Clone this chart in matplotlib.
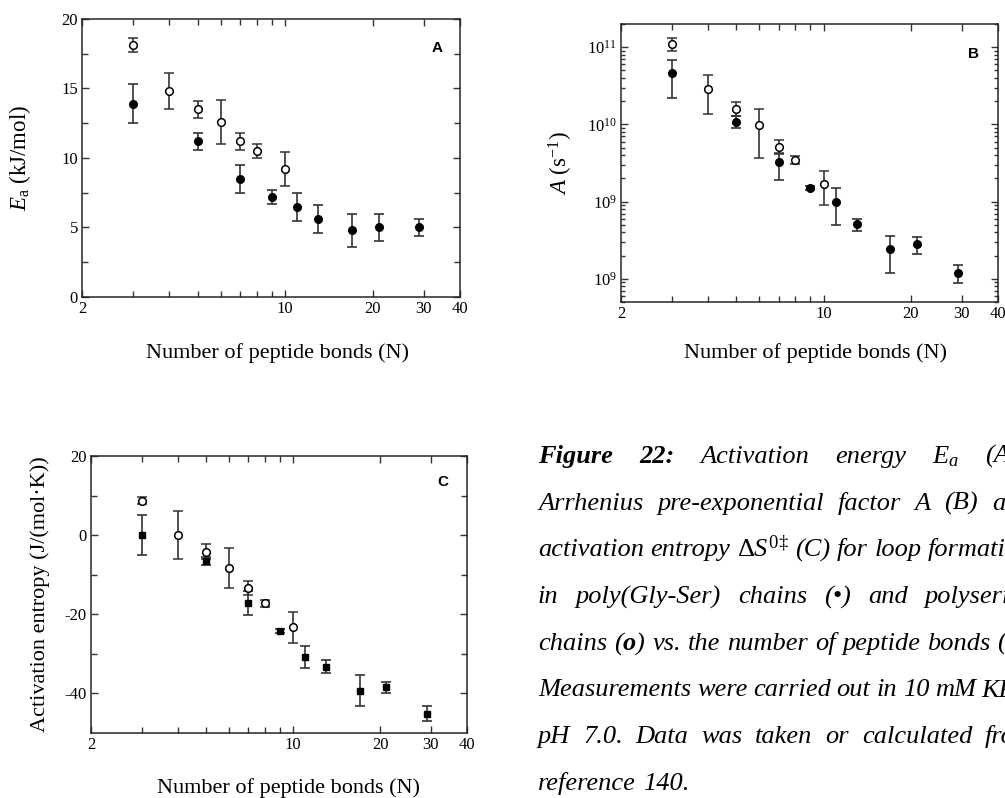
import numpy as np
import matplotlib.pyplot as plt
from matplotlib.ticker import FixedLocator, FixedFormatter, NullFormatter, LogLocator, MultipleLocator

plt.rcParams['font.family'] = ['Liberation Serif', 'DejaVu Serif']
plt.rcParams['mathtext.fontset'] = 'custom'
plt.rcParams['mathtext.rm'] = 'Liberation Serif'
plt.rcParams['mathtext.it'] = 'Liberation Serif:italic'
plt.rcParams['mathtext.bf'] = 'Liberation Serif:bold:italic'
plt.rcParams['axes.unicode_minus'] = False

# poly(Gly-Ser) chains (filled) and polyserine chains (open)
N_gs = [3, 5, 7, 9, 11, 13, 17, 21, 29]
N_ser = [3, 4, 5, 6, 7, 8, 10]

# activation energy, kJ/mol
Ea_gs = [13.9, 11.2, 8.5, 7.2, 6.5, 5.6, 4.8, 5.0, 5.0]
Ea_gs_err = [1.4, 0.6, 1.0, 0.5, 1.0, 1.0, 1.2, 1.0, 0.6]
Ea_ser = [18.1, 14.8, 13.5, 12.6, 11.2, 10.5, 9.2]
Ea_ser_err = [0.5, 1.3, 0.6, 1.6, 0.6, 0.5, 1.2]

# pre-exponential factor, 1/s (value, lower, upper)
A_gs = [4.6e10, 1.08e10, 3.3e9, 1.49e9, 1.0e9, 5.1e8, 2.4e8, 2.8e8, 1.2e8]
A_gs_lo = [2.2e10, 9.0e9, 1.9e9, 1.4e9, 5.0e8, 4.2e8, 1.2e8, 2.1e8, 8.8e7]
A_gs_hi = [6.9e10, 1.28e10, 4.1e9, 1.6e9, 1.5e9, 6.0e8, 3.6e8, 3.5e8, 1.5e8]
A_ser = [1.1e11, 2.9e10, 1.59e10, 9.9e9, 5.1e9, 3.5e9, 1.69e9]
A_ser_lo = [8.9e10, 1.38e10, 1.29e10, 3.7e9, 4.2e9, 3.1e9, 9.0e8]
A_ser_hi = [1.3e11, 4.4e10, 1.95e10, 1.6e10, 6.3e9, 3.9e9, 2.5e9]

# activation entropy, J/(mol K)
dS_gs = [0.0, -6.6, -17.2, -24.3, -30.8, -33.2, -39.3, -38.5, -45.1]
dS_gs_err = [5.0, 1.0, 3.0, 0.5, 2.8, 1.6, 3.9, 1.5, 1.9]
dS_ser = [8.7, 0.0, -4.2, -8.3, -13.4, -17.2, -23.3]
dS_ser_err = [0.9, 6.0, 1.9, 5.1, 1.8, 0.85, 4.0]

x_ticks = [2, 10, 20, 30, 40]
x_labels = ['2', '10', '20', '30', '40']
B_ticks = [1e8, 1e9, 1e10, 1e11]
B_labels = [r'$10^{9}$', r'$10^{9}$', r'$10^{10}$', r'$10^{11}$']

W, H = 1005, 798
fig = plt.figure(figsize=(W / 100, H / 100), dpi=100)


def px_axes(left, top, right, bottom):
    return fig.add_axes([left / W, 1 - bottom / H, (right - left) / W, (bottom - top) / H])


def style(ax, letter, lx, ly):
    ax.set_xscale('log')
    ax.set_xlim(2, 40)
    ax.xaxis.set_major_locator(FixedLocator(x_ticks))
    ax.xaxis.set_major_formatter(FixedFormatter(x_labels))
    ax.xaxis.set_minor_locator(FixedLocator(range(3, 10)))
    ax.xaxis.set_minor_formatter(NullFormatter())
    ax.tick_params(which='both', direction='in', top=True, right=True,
                   color='0.2', width=1.0, labelsize=12, pad=3)
    ax.tick_params(which='major', length=5)
    ax.tick_params(which='minor', length=4)
    for s in ax.spines.values():
        s.set_linewidth(1.1)
        s.set_color('0.15')
    ax.text(lx, ly, letter, transform=ax.transAxes, ha='center', va='center',
            fontfamily='Liberation Sans', fontweight='bold', fontsize=11)


ebar = dict(ecolor='0.2', elinewidth=1.2, capsize=3.5, capthick=1.2, ls='none')
filled = dict(marker='o', ms=5.5, mfc='k', mec='k', **ebar)
opened = dict(marker='o', ms=5.5, mfc='white', mec='k', mew=1.1, **ebar)

# A: activation energy
axA = px_axes(82, 19, 460, 297)
axA.errorbar(N_gs, Ea_gs, yerr=Ea_gs_err, **filled)
axA.errorbar(N_ser, Ea_ser, yerr=Ea_ser_err, **opened)
axA.set_ylim(0, 20)
axA.yaxis.set_major_locator(MultipleLocator(5))
axA.yaxis.set_minor_locator(MultipleLocator(2.5))
style(axA, 'A', 0.94, 0.896)
axA.set_ylabel(r'$E_{\mathrm{a}}$ (kJ/mol)', fontsize=16.5)
axA.yaxis.set_label_coords(-0.13, 0.5)
axA.set_xlabel('Number of peptide bonds (N)', fontsize=16)
axA.xaxis.set_label_coords(0.516, -0.165)

# B: pre-exponential factor
axB = px_axes(621, 24, 998, 302)
gs_err = [np.subtract(A_gs, A_gs_lo), np.subtract(A_gs_hi, A_gs)]
ser_err = [np.subtract(A_ser, A_ser_lo), np.subtract(A_ser_hi, A_ser)]
axB.errorbar(N_gs, A_gs, yerr=gs_err, **filled)
axB.errorbar(N_ser, A_ser, yerr=ser_err, **opened)
axB.set_yscale('log')
axB.set_ylim(5e7, 2e11)
axB.yaxis.set_major_locator(FixedLocator(B_ticks))
axB.yaxis.set_major_formatter(FixedFormatter(B_labels))
axB.yaxis.set_minor_locator(LogLocator(base=10, subs=np.arange(2, 10)))
axB.yaxis.set_minor_formatter(NullFormatter())
style(axB, 'B', 0.934, 0.892)
axB.tick_params(axis='y', which='minor', length=3)
axB.set_ylabel(r'$A$ (s$^{-1}$)', fontsize=16.5)
axB.yaxis.set_label_coords(-0.122, 0.5)
axB.set_xlabel('Number of peptide bonds (N)', fontsize=16)
axB.xaxis.set_label_coords(0.516, -0.147)

# C: activation entropy
axC = px_axes(91, 456, 467, 733)
axC.errorbar(N_gs, dS_gs, yerr=dS_gs_err, marker='s', ms=5, mfc='k', mec='k', **ebar)
axC.errorbar(N_ser, dS_ser, yerr=dS_ser_err, **opened)
axC.set_ylim(-50, 20)
axC.yaxis.set_major_locator(FixedLocator([-40, -20, 0, 20]))
axC.yaxis.set_minor_locator(FixedLocator([-30, -10, 10]))
style(axC, 'C', 0.936, 0.905)
axC.set_ylabel('Activation entropy (J/(mol\u00b7K))', fontsize=16)
axC.yaxis.set_label_coords(-0.108, 0.5)
axC.set_xlabel('Number of peptide bonds (N)', fontsize=16)
axC.xaxis.set_label_coords(0.525, -0.161)

# caption, justified by hand: each line is stretched so that one word
# lands at a fixed x position (pixels)
caption_lines = [
    [('Figure', 'bold'), ('22:', 'bold'), 'Activation', 'energy', r'$E_a$', '(A),'],
    ['Arrhenius', 'pre-exponential', 'factor', 'A', '(B)', 'and'],
    ['activation', 'entropy', '$\\Delta S^{0\u2021}$', '(C)', 'for', 'loop', 'formation'],
    ['in', 'poly(Gly-Ser)', 'chains', '(\u2022)', 'and', 'polyserine'],
    ['chains', r'($\mathbf{o}$)', 'vs.', 'the', 'number', 'of', 'peptide', 'bonds', '(N).'],
    ['Measurements', 'were', 'carried', 'out', 'in', '10', 'mM', 'KPi,'],
    ['pH', '7.0.', 'Data', 'was', 'taken', 'or', 'calculated', 'from'],
    ['reference', '140.'],
]
caption_anchor = [(5, 985), (5, 992), (6, 928), (5, 925), (7, 927), (6, 935), (7, 985), None]
cap_left = 538
cap_top = 463
cap_step = 46.7

renderer = fig.canvas.get_renderer()
for i, words in enumerate(caption_lines):
    y = 1 - (cap_top + i * cap_step) / H
    texts = []
    for w in words:
        txt, weight = w if isinstance(w, tuple) else (w, 'normal')
        texts.append(fig.text(0, y, txt, fontsize=19, style='italic', weight=weight,
                              va='baseline', ha='left'))
    widths = [t.get_window_extent(renderer).width for t in texts]
    if caption_anchor[i] is None:
        gap = 7
    else:
        k, xk = caption_anchor[i]
        gap = (xk - cap_left - sum(widths[:k])) / k
    x = cap_left
    for t, w in zip(texts, widths):
        t.set_x(x / W)
        x += w + gap

fig.savefig('out.png', dpi=100)
